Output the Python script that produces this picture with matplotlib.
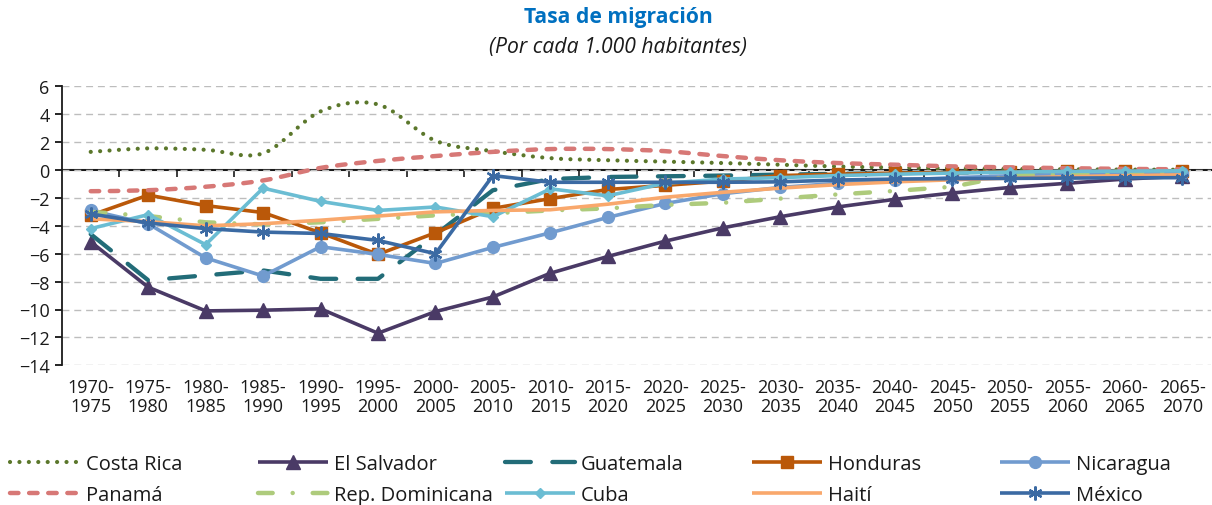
import numpy as np
import matplotlib
matplotlib.use("Agg")
import matplotlib.pyplot as plt
from matplotlib.path import Path
from matplotlib.patches import PathPatch
from matplotlib.lines import Line2D

plt.rcParams['font.family'] = ['Open Sans', 'DejaVu Sans']

periods = ["1970-\n1975", "1975-\n1980", "1980-\n1985", "1985-\n1990", "1990-\n1995",
           "1995-\n2000", "2000-\n2005", "2005-\n2010", "2010-\n2015", "2015-\n2020",
           "2020-\n2025", "2025-\n2030", "2030-\n2035", "2035-\n2040", "2040-\n2045",
           "2045-\n2050", "2050-\n2055", "2055-\n2060", "2060-\n2065", "2065-\n2070"]

costa_rica = [1.3, 1.55, 1.45, 1.2, 4.2, 4.7, 2.1, 1.35, 0.85, 0.7, 0.6, 0.5, 0.38, 0.25, 0.18, 0.12, 0.08, 0.05, 0.03, 0.02]
el_salvador = [-5.15, -8.4, -10.1, -10.05, -9.95, -11.7, -10.15, -9.1, -7.4, -6.2, -5.1, -4.15, -3.35, -2.65, -2.1, -1.65, -1.25, -0.95, -0.65, -0.45]
guatemala = [-4.6, -7.9, -7.55, -7.2, -7.8, -7.8, -4.65, -1.45, -0.65, -0.5, -0.45, -0.4, -0.33, -0.28, -0.22, -0.18, -0.14, -0.1, -0.08, -0.06]
honduras = [-3.25, -1.8, -2.55, -3.05, -4.5, -6.05, -4.5, -2.75, -2.05, -1.4, -1.1, -0.8, -0.4, -0.3, -0.22, -0.18, -0.14, -0.1, -0.08, -0.06]
nicaragua = [-2.9, -3.85, -6.3, -7.6, -5.5, -6.05, -6.7, -5.55, -4.5, -3.4, -2.4, -1.7, -1.25, -0.95, -0.75, -0.55, -0.42, -0.3, -0.22, -0.18]
panama = [-1.52, -1.45, -1.2, -0.75, 0.15, 0.65, 1.0, 1.3, 1.5, 1.5, 1.35, 1.0, 0.7, 0.5, 0.38, 0.26, 0.19, 0.13, 0.08, 0.05]
rep_dominicana = [-3.0, -3.3, -3.75, -3.9, -3.75, -3.5, -3.25, -3.1, -2.9, -2.75, -2.5, -2.35, -2.05, -1.75, -1.5, -1.2, -0.4, -0.3, -0.22, -0.18]
cuba = [-4.2, -3.2, -5.35, -1.3, -2.25, -2.9, -2.65, -3.35, -1.35, -1.85, -0.95, -0.65, -0.55, -0.4, -0.3, -0.22, -0.15, -0.1, -0.08, -0.06]
haiti = [-3.5, -3.7, -4.0, -3.85, -3.6, -3.3, -3.0, -2.9, -2.85, -2.45, -1.95, -1.6, -1.3, -1.05, -0.85, -0.7, -0.58, -0.48, -0.4, -0.35]
mexico = [-3.15, -3.8, -4.2, -4.45, -4.55, -5.05, -6.0, -0.4, -0.88, -0.88, -0.88, -0.88, -0.85, -0.72, -0.65, -0.62, -0.6, -0.58, -0.56, -0.55]

LW = 2.6
series = [
    dict(label="Costa Rica", y=costa_rica, color="#5B772B", smooth=True, lw=3.0,
         ls=(0, (0.01, 2.25)), marker=None),
    dict(label="El Salvador", y=el_salvador, color="#4A3A66", lw=LW, ls="-",
         marker="^", ms=9.5),
    dict(label="Guatemala", y=guatemala, color="#226C78", lw=3.1, ls=(0, (6.0, 5.0)),
         marker=None),
    dict(label="Honduras", y=honduras, color="#BA5809", lw=LW, ls="-", marker="s", ms=8.8),
    dict(label="Nicaragua", y=nicaragua, color="#719BCF", lw=LW, ls="-", marker="o", ms=8.5),
    dict(label="Panamá", y=panama, color="#D77876", smooth=True, lw=3.2,
         ls=(0, (1.9, 2.4)), marker=None),
    dict(label="Rep. Dominicana", y=rep_dominicana, color="#AECB7C", lw=3.2,
         ls=(0, (3.3, 4.5, 0.01, 4.5)), marker=None),
    dict(label="Cuba", y=cuba, color="#6BBDD3", lw=LW, ls="-", marker="D", ms=5.5),
    dict(label="Haití", y=haiti, color="#F9A86C", lw=LW, ls="-", marker=None),
    dict(label="México", y=mexico, color="#3B6AA3", lw=LW, ls="-", marker=(6, 2, 0), ms=10),
]

W, H = 1212, 506
fig = plt.figure(figsize=(W / 100, H / 100), dpi=100)
ax = fig.add_axes([62 / W, 1 - 366.3 / H, (1211 - 62) / W, (366.3 - 87.3) / H])

x = np.arange(len(periods))


def smooth_path(xs, ys):
    pts = np.column_stack([xs, ys]).astype(float)
    n = len(pts)
    verts = [pts[0]]
    codes = [Path.MOVETO]
    for i in range(n - 1):
        p0 = pts[i - 1] if i > 0 else pts[i]
        p1 = pts[i]
        p2 = pts[i + 1]
        p3 = pts[i + 2] if i + 2 < n else pts[i + 1]
        c1 = p1 + (p2 - p0) / 6.0
        c2 = p2 - (p3 - p1) / 6.0
        verts += [c1, c2, p2]
        codes += [Path.CURVE4] * 3
    return Path(verts, codes)


handles = []
for z, s in enumerate(series):
    cap = "round"
    mew = 1.6 if s["marker"] == (6, 2, 0) else 1.0
    if s.get("smooth"):
        patch = PathPatch(smooth_path(x, s["y"]), fill=False, edgecolor=s["color"],
                          lw=s["lw"], linestyle=s["ls"], capstyle=cap, zorder=3 + z)
        ax.add_patch(patch)
    else:
        ax.plot(x, s["y"], color=s["color"], lw=s["lw"], linestyle=s["ls"],
                marker=s["marker"], ms=s.get("ms", 0), mfc=s["color"], mec=s["color"],
                mew=mew, dash_capstyle=cap, solid_capstyle="butt", zorder=3 + z)
    handles.append(Line2D([], [], color=s["color"], lw=s["lw"], linestyle=s["ls"],
                          marker=s["marker"], ms=s.get("ms", 0), mfc=s["color"],
                          mec=s["color"], mew=mew,
                          dash_capstyle=cap, solid_capstyle="butt"))

ax.set_xlim(-0.5, len(periods) - 0.5)
ax.set_ylim(-14, 6)
ax.set_yticks(np.arange(-14, 7, 2))
ax.set_xticks(x)
ax.set_xticklabels(periods, fontsize=13, color="#1a1a1a", linespacing=1.05)
ax.tick_params(axis="x", length=0, pad=9)
ax.tick_params(axis="y", direction="out", length=5, width=1.2, labelsize=13,
               labelcolor="#1a1a1a", pad=4)
for sp in ["top", "right", "bottom"]:
    ax.spines[sp].set_visible(False)
ax.spines["left"].set_color("#1a1a1a")
ax.spines["left"].set_linewidth(1.3)
ax.yaxis.grid(True, color="#BDBDBD", linestyle=(0, (5, 3.5)), linewidth=1.0, zorder=0)
ax.set_axisbelow(True)

sec = ax.secondary_xaxis(0, transform=ax.transData)
sec.set_alignment("bottom")
sec.set_xticks(np.arange(0.5, len(periods) - 0.5, 1))
sec.tick_params(axis="x", direction="out", length=5, width=1.2, labelbottom=False,
                labeltop=False, color="#1a1a1a")
sec.spines["bottom"].set_color("#1a1a1a")
sec.spines["bottom"].set_linewidth(1.5)

fig.text(618 / W, 1 - 18 / H, "Tasa de migración", ha="center", va="center",
         fontsize=15.2, fontweight="bold", color="#0070C0")
fig.text(618 / W, 1 - 48 / H, "(Por cada 1.000 habitantes)", ha="center", va="center",
         fontsize=15.2, fontstyle="italic", color="#1a1a1a")

fs = 14.5
fs_px = fs * 100 / 72
col_x = [10, 258, 505, 752, 1000]
for c in range(5):
    hs = [handles[c], handles[c + 5]]
    labs = [series[c]["label"], series[c + 5]["label"]]
    leg = fig.legend(hs, labs, loc="center left",
                     bbox_to_anchor=(col_x[c] / W, 1 - 480.5 / H),
                     frameon=False, fontsize=fs, borderpad=0, borderaxespad=0,
                     handlelength=70 / fs_px, handletextpad=6 / fs_px,
                     labelspacing=0.55, numpoints=1)
    for t in leg.get_texts():
        t.set_color("#1a1a1a")

fig.savefig("out.png", dpi=100)
